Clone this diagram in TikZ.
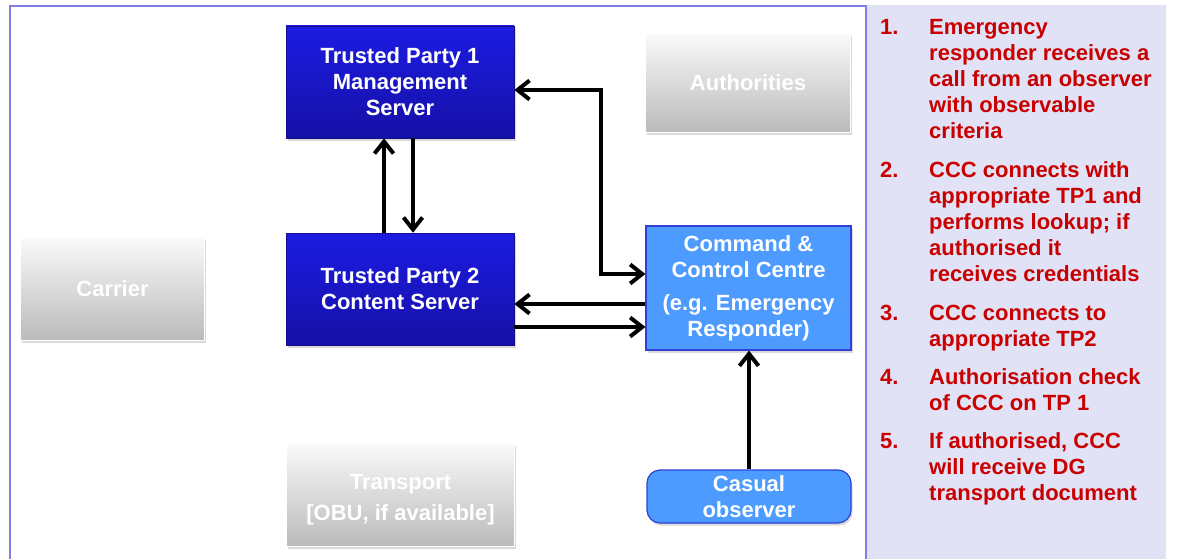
\documentclass[tikz,border=0pt]{standalone}
\usepackage{fontspec}
\setmainfont{Liberation Sans}
\usetikzlibrary{arrows.meta,shadows}

\definecolor{frameblue}{RGB}{128,128,228}
\definecolor{panelbg}{RGB}{226,226,246}
\definecolor{tptop}{RGB}{28,28,226}
\definecolor{tpbot}{RGB}{22,16,166}
\definecolor{cccfill}{RGB}{77,155,255}
\definecolor{cccedge}{RGB}{45,65,215}
\definecolor{greytop}{RGB}{250,250,250}
\definecolor{greybot}{RGB}{186,186,186}
\definecolor{stepred}{RGB}{200,0,0}

\begin{document}
\begin{tikzpicture}[x=1pt,y=-1pt,
  bodyfont/.style={font=\fontsize{22}{26}\selectfont\bfseries},
  boxbase/.style={bodyfont, align=center, inner sep=0pt, text=white},
  server/.style={boxbase, draw=tpbot!85!black, line width=0.6pt,
    top color=tptop, bottom color=tpbot,
    drop shadow={shadow xshift=1.5pt, shadow yshift=-2.5pt, opacity=0.3}},
  inactive/.style={boxbase, draw=white, line width=1.5pt,
    top color=greytop, bottom color=greybot,
    drop shadow={shadow xshift=1.5pt, shadow yshift=-2.5pt, opacity=0.3}},
  centre/.style={boxbase, draw=cccedge, line width=1.2pt, fill=cccfill,
    drop shadow={shadow xshift=1.5pt, shadow yshift=-2.5pt, opacity=0.3}},
  barb/.tip={Straight Barb[length=12pt,width=19pt]},
  flow/.style={line width=4pt, -barb},
  twoway/.style={line width=4pt, barb-barb},
  stepnum/.style={bodyfont, text=stepred, anchor=north west, inner sep=0pt},
  steptext/.style={bodyfont, text=stepred, anchor=north west, inner sep=0pt, align=left},
]
\useasboundingbox (0,0) rectangle (1177,559);

% side panel with the numbered steps
\fill[panelbg] (866,5) rectangle (1166,559);

% outer frame of the diagram area
\draw[frameblue, line width=2pt] (10,559) -- (10,6) -- (866,6) -- (866,559);

% boxes
\node[server, minimum width=228pt, minimum height=112pt] (tp1) at (400,82)
  {Trusted Party 1\\Management\\Server};
\node[server, minimum width=228pt, minimum height=112pt] (tp2) at (400,289)
  {Trusted Party 2\\Content Server};
\node[inactive, minimum width=205pt, minimum height=99pt] (auth) at (748,83)
  {Authorities};
\node[inactive, minimum width=184pt, minimum height=103pt] (carrier) at (112.5,289)
  {Carrier};
\node[inactive, minimum width=228pt, minimum height=103pt] (transport) at (400.5,495)
  {\rule{0pt}{24pt}Transport\\[5pt]{[OBU, if available]}};
\node[centre, minimum width=205pt, minimum height=124pt] (ccc) at (748.5,288)
  {Command \&\\Control Centre\\[7pt](e.g. Emergency\\Responder)};
\node[centre, rounded corners=13pt, minimum width=204pt, minimum height=53pt] (observer) at (749,496.5)
  {Casual\\observer};

% connectors
\draw[flow] ([xshift=-16pt]tp2.north) -- ([xshift=-16pt]tp1.south);
\draw[flow] ([xshift=13pt]tp1.south) -- ([xshift=13pt]tp2.north);
\draw[twoway] ([yshift=-8pt]tp1.east) -| ([xshift=-44pt,yshift=14pt]ccc.west) -- ([yshift=14pt]ccc.west);
\draw[flow] ([yshift=-16pt]ccc.west) -- ([yshift=-16pt]ccc.west -| tp2.east);
\draw[flow] ([yshift=-39pt]ccc.west -| tp2.east) -- ([yshift=-39pt]ccc.west);
\draw[flow] (observer.north) -- (observer.north |- ccc.south);

% numbered steps
\node[stepnum] (n1) at (880,16) {\strut 1.};
\node[steptext] (s1) at (929,16) {\strut Emergency\\responder receives a\\call from an observer\\with observable\\criteria};
\node[stepnum] (n2) at (880,159) {\strut 2.};
\node[steptext] (s2) at (929,159) {\strut CCC connects with\\appropriate TP1 and\\performs lookup; if\\authorised it\\receives credentials};
\node[stepnum] (n3) at (880,302) {\strut 3.};
\node[steptext] (s3) at (929,302) {\strut CCC connects to\\appropriate TP2};
\node[stepnum] (n4) at (880,366) {\strut 4.};
\node[steptext] (s4) at (929,366) {\strut Authorisation check\\of CCC on TP 1};
\node[stepnum] (n5) at (880,430) {\strut 5.};
\node[steptext] (s5) at (929,430) {\strut If authorised, CCC\\will receive DG\\transport document};
\end{tikzpicture}
\end{document}
